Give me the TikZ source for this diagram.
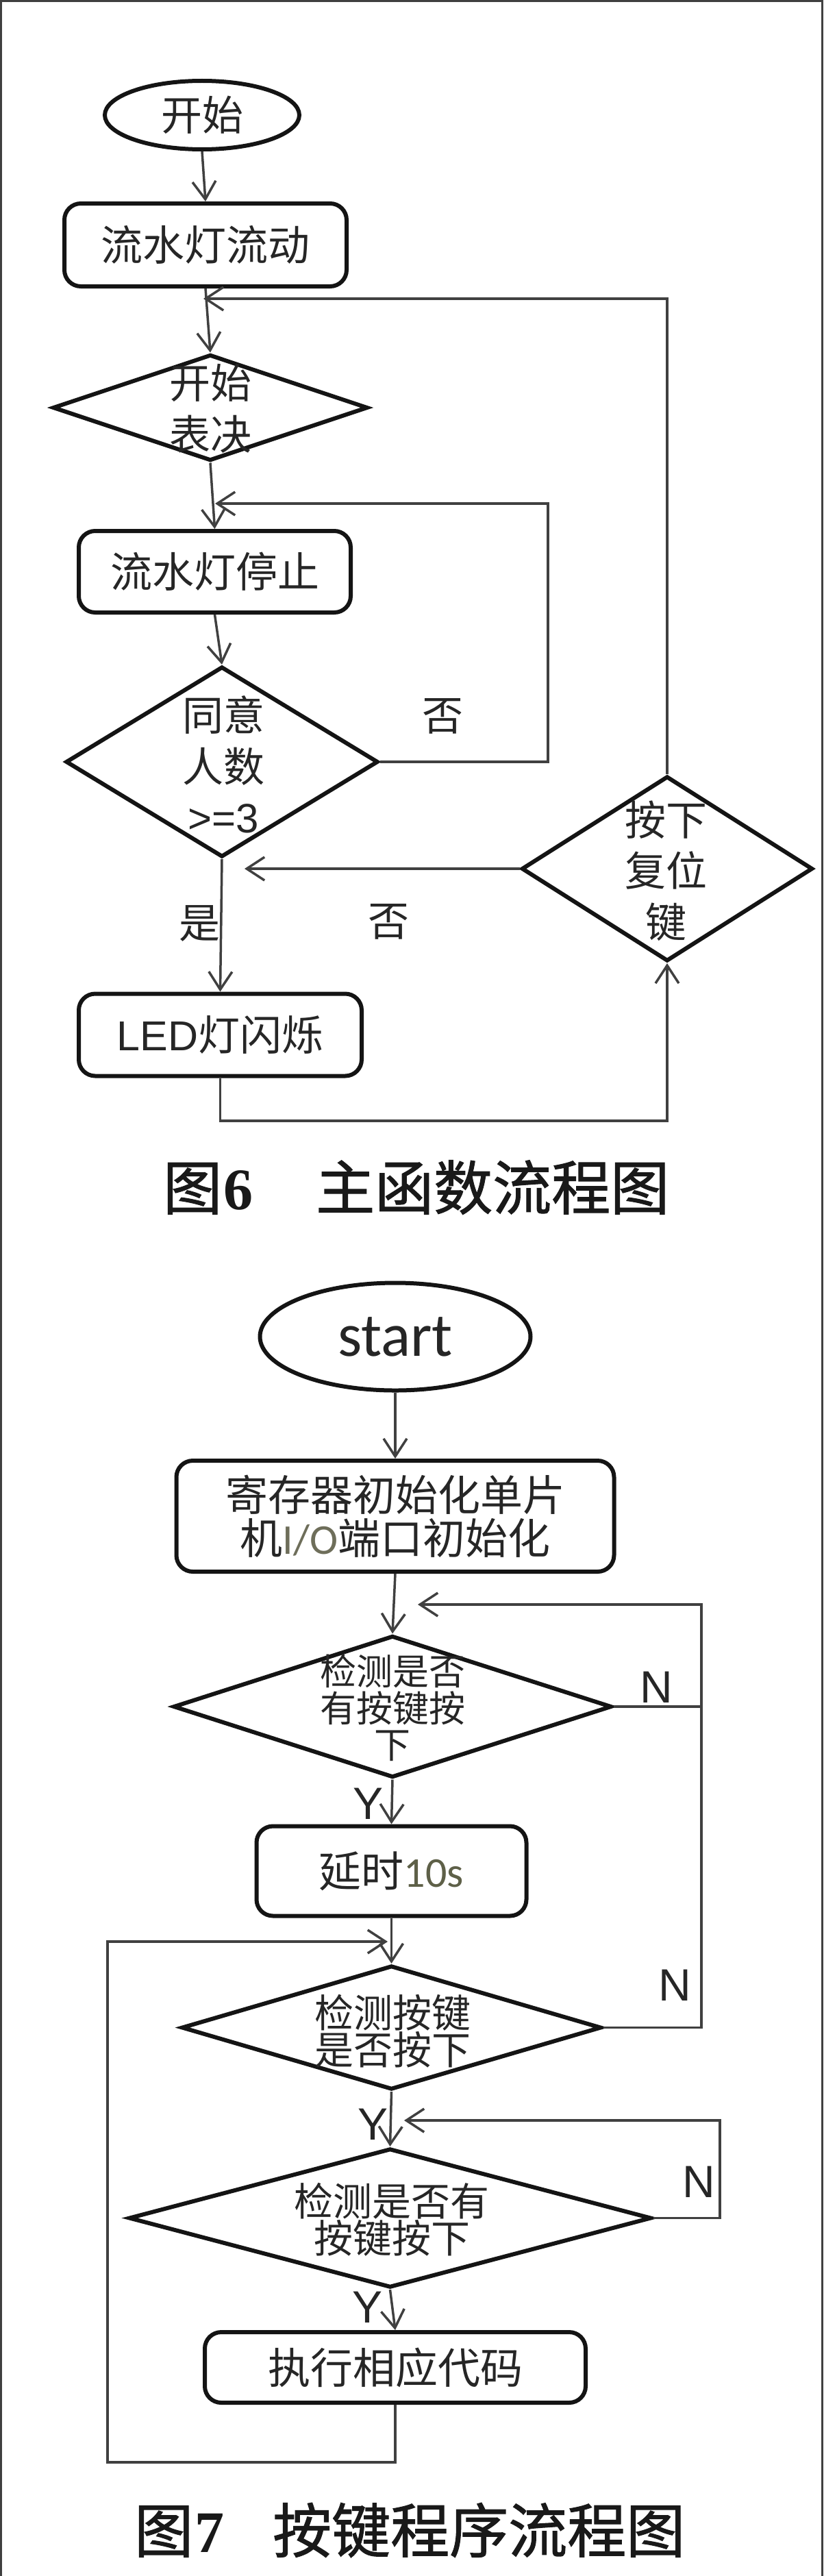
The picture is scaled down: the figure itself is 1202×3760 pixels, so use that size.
\documentclass[tikz,border=0pt]{standalone}
\usepackage{fontspec}
\setmainfont{Liberation Sans}
\newfontfamily\cjk{Noto Sans CJK SC}
\newfontfamily\capcjk[FakeBold=1.2]{Noto Sans CJK SC}
\newfontfamily\carlito{Carlito}
\newfontfamily\serifbf{Liberation Serif Bold}
\newfontfamily\lat{Liberation Sans}
\usetikzlibrary{shapes.geometric,arrows.meta,calc}
\newcommand\tsz[2]{\fontsize{#1}{#2}\selectfont}
\definecolor{iocol}{HTML}{6E6E5A}
\definecolor{tencol}{HTML}{5E6048}
\begin{document}
\begin{tikzpicture}[x=1pt,y=-1pt,
  shp/.style={draw=black!92, line width=6pt},
  proc/.style={shp, rectangle, rounded corners=24pt, inner sep=0pt, align=center,
    text=black!85, font=\cjk\tsz{61pt}{63pt}},
  dec/.style={shp, diamond, inner sep=0pt},
  term/.style={shp, ellipse, inner sep=0pt, text=black!85},
  txt/.style={inner sep=0pt, align=center, text=black!85, font=\cjk\tsz{60pt}{74.5pt}},
  txtb/.style={inner sep=0pt, align=center, text=black!85, font=\cjk\tsz{53pt}{53.5pt}},
  txtc/.style={inner sep=0pt, align=center, text=black!85, font=\cjk\tsz{57pt}{52.5pt}},
  yn/.style={inner sep=0pt, text=black!85, font=\lat\tsz{66pt}{70pt}},
  figcap/.style={inner sep=0pt, anchor=west, text=black!90, font=\capcjk\tsz{86pt}{90pt}},
  conn/.style={draw=black!75, line width=3.5pt},
  arr/.style={conn, -{Straight Barb[length=26pt,width=34pt,line width=3.5pt]}},
  frm/.style={draw=black!75, line width=3pt}]
\useasboundingbox (0,0) rectangle (1202,3760);
\fill[white] (0,0) rectangle (1202,3760);
\draw[frm] (1.5,3760) -- (1.5,1.5) -- (1200.5,1.5) -- (1200.5,3760);

% ---------------- Figure 6 ----------------
\node[term, minimum width=284pt, minimum height=100pt, font=\cjk\tsz{60pt}{66pt}] (s6) at (295,168) {开始};
\node[proc, minimum width=412pt, minimum height=121pt] (flow) at (300,357.5) {流水灯流动};
\node[dec, minimum width=460pt, minimum height=155pt] (vote) at (307,595) {};
\node[txt] (voteT) at (307,596) {开始\\表决};
\node[proc, minimum width=397pt, minimum height=119pt] (stop) at (313.5,834.5) {流水灯停止};
\node[dec, minimum width=456pt, minimum height=278pt] (agree) at (324,1112) {};
\node[txt] (agreeT) at (326,1116) {同意\\人数\\{\lat >=3}};
\node[dec, minimum width=425pt, minimum height=270pt] (reset) at (974,1268) {};
\node[txt] (resetT) at (972,1271) {按下\\复位\\键};
\node[proc, minimum width=413pt, minimum height=120pt] (led) at (321.5,1510.5) {{\lat LED}灯闪烁};

\coordinate (j1) at (297,436);
\coordinate (j2) at (314,735);
\coordinate (j3) at (357,1268);
\coordinate (c1) at (800,735);
\coordinate (c2) at (974,436);
\coordinate (c3) at (321.5,1636);

\draw[arr] (s6.south) -- (flow.north);
\draw[arr] (flow.south) -- (vote.north);
\draw[arr] (vote.south) -- (stop.north);
\draw[arr] (stop.south) -- (agree.north);
\draw[arr] (agree.south) -- (led.north);
\draw[arr] (agree.east) -| (c1) -- (j2);
\draw[arr] (reset.north) -- (c2) -- (j1);
\draw[arr] (reset.west) -- (j3);
\draw[arr] (led.south) -- (c3) -| (reset.south);

\node[txt] (no1) at (646,1045) {否};
\node[txt] (no2) at (567,1345) {否};
\node[txt] (yes1) at (291,1348) {是};

\node[figcap] (cap6) at (238,1733) {图\kern2pt{\serifbf 6}\kern92pt 主函数流程图};

% ---------------- Figure 7 ----------------
\node[term, minimum width=395pt, minimum height=157pt, font=\carlito\tsz{90pt}{96pt}] (s7) at (577,1951) {start};
\node[proc, minimum width=639pt, minimum height=162pt, font=\cjk\tsz{62pt}{63pt}] (init) at (577,2213)
  {寄存器初始化单片\\机{\carlito\color{iocol}I/O}端口初始化};
\node[dec, minimum width=640pt, minimum height=207pt] (chk1) at (573,2491) {};
\node[txtb] (chk1T) at (573,2493) {检测是否\\有按键按\\下};
\node[proc, minimum width=394pt, minimum height=131pt, font=\cjk\tsz{62pt}{63pt}] (delay) at (571.5,2731) {延时{\carlito\color{tencol}10s}};
\node[dec, minimum width=613pt, minimum height=181pt] (chk2) at (571.5,2959.5) {};
\node[txtc] (chk2T) at (573,2965) {检测按键\\是否按下};
\node[dec, minimum width=763pt, minimum height=203pt] (chk3) at (569.5,3237.5) {};
\node[txtc] (chk3T) at (572,3240) {检测是否有\\按键按下};
\node[proc, minimum width=556pt, minimum height=103pt, font=\cjk\tsz{62pt}{63pt}] (exec) at (577,3455.5) {执行相应代码};

\coordinate (k1) at (610,2342);
\coordinate (k2) at (566,2834);
\coordinate (k3) at (590,3095);
\coordinate (c5) at (1024,2342);
\coordinate (c7) at (157,3594);
\coordinate (c9) at (1051,3095);

\draw[arr] (s7.south) -- (init.north);
\draw[arr] (init.south) -- (chk1.north);
\draw[arr] (chk1.south) -- (delay.north);
\draw[arr] (delay.south) -- (chk2.north);
\draw[arr] (chk2.south) -- (chk3.north);
\draw[arr] (chk3.south) -- (exec.north);
\draw[conn] (chk1.east) -- (chk1.east -| c5);
\draw[arr] (chk2.east) -| (c5) -- (k1);
\draw[arr] (exec.south) |- (c7) |- (k2);
\draw[arr] (chk3.east) -| (c9) -- (k3);

\node[yn] (n1) at (958,2463) {N};
\node[yn] (n2) at (985,2898) {N};
\node[yn] (n3) at (1020,3185) {N};
\node[yn] (y1) at (538,2633) {Y};
\node[yn] (y2) at (545,3101) {Y};
\node[yn] (y3) at (537,3368) {Y};

\node[figcap] (cap7) at (196,3693) {图\kern2pt{\serifbf 7}\kern71pt 按键程序流程图};
\end{tikzpicture}
\end{document}
